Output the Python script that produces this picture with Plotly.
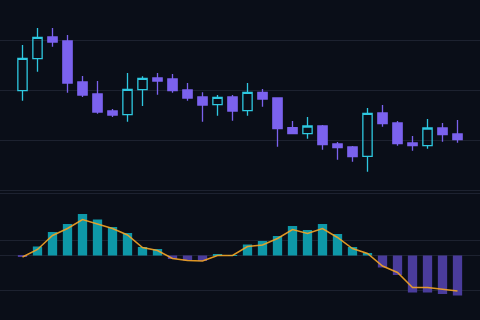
import plotly.graph_objects as go

# ---- data ----
idx = list(range(30))
opens  = [99.93, 103.13, 105.30, 104.90, 100.80, 99.60, 97.90, 97.53, 100.03, 101.20,
          101.10, 100.00, 99.30, 98.53, 99.30, 97.93, 99.77, 99.20, 96.23, 95.63,
          96.40, 94.60, 94.30, 93.37, 97.70, 96.70, 94.70, 94.43, 96.20, 95.60]
highs  = [104.50, 106.20, 106.20, 105.50, 101.40, 100.90, 98.10, 101.70, 101.37, 101.70,
          101.60, 100.70, 99.77, 99.50, 99.50, 100.70, 100.10, 99.20, 96.90, 97.30,
          96.50, 94.80, 94.40, 98.20, 98.50, 96.90, 95.40, 97.10, 96.70, 97.00]
lows   = [98.93, 101.83, 104.33, 99.73, 99.30, 97.63, 97.30, 96.83, 98.40, 99.53,
          99.73, 98.93, 96.83, 97.43, 96.93, 97.43, 98.33, 94.33, 95.60, 95.13,
          94.03, 93.03, 92.83, 91.83, 96.33, 94.43, 93.93, 94.13, 94.83, 94.73]
closes = [103.17, 105.27, 104.80, 100.70, 99.50, 97.80, 97.50, 100.07, 101.17, 100.90,
          99.93, 99.20, 98.50, 99.27, 97.90, 99.77, 99.10, 96.13, 95.63, 96.40,
          94.53, 94.23, 93.33, 97.67, 96.63, 94.63, 94.43, 96.20, 95.53, 95.03]

hist = [-0.015, 0.09, 0.235, 0.315, 0.415, 0.36, 0.285, 0.225, 0.085, 0.065,
        -0.035, -0.05, -0.055, 0.015, 0.005, 0.11, 0.145, 0.195, 0.295, 0.255,
        0.315, 0.215, 0.085, 0.025, -0.12, -0.195, -0.37, -0.37, -0.385, -0.40]
signal = [-0.015, 0.06, 0.20, 0.27, 0.36, 0.315, 0.27, 0.205, 0.08, 0.05,
          -0.03, -0.05, -0.055, 0.0, 0.0, 0.09, 0.105, 0.17, 0.26, 0.22,
          0.27, 0.18, 0.07, 0.02, -0.105, -0.17, -0.32, -0.32, -0.335, -0.355]

price_grid = [89.7, 90, 95, 100, 105]
osc_grid = [-0.35, 0.15]

# ---- style ----
BG = "#0a0e18"
GRID = "#1d2230"
UP = "#2ec8e0"
DOWN = "#7b62ee"
HIST_UP = "#0e98a8"
HIST_DN = "#4a3c9c"
LINE = "#f5a524"

fig = go.Figure()

fig.add_trace(go.Candlestick(
    x=idx, open=opens, high=highs, low=lows, close=closes,
    increasing=dict(line=dict(color=UP, width=1.3), fillcolor="rgba(0,0,0,0)"),
    decreasing=dict(line=dict(color=DOWN, width=1.3), fillcolor=DOWN),
    whiskerwidth=0, xaxis="x", yaxis="y", showlegend=False, hoverinfo="skip",
))

fig.add_trace(go.Bar(
    x=idx, y=hist,
    marker=dict(color=[HIST_UP if v >= 0 else HIST_DN for v in hist], line=dict(width=0)),
    xaxis="x2", yaxis="y2", showlegend=False,
))

fig.add_trace(go.Scatter(
    x=idx, y=signal, mode="lines",
    line=dict(color=LINE, width=1.5), opacity=0.9,
    xaxis="x2", yaxis="y2", showlegend=False,
))

fig.update_layout(
    width=480, height=320,
    margin=dict(l=0, r=0, t=0, b=0),
    paper_bgcolor=BG, plot_bgcolor=BG,
    boxgap=0.38, boxgroupgap=0, bargap=0.38,
    xaxis=dict(domain=[0, 1], range=[-1.5, 30.5], anchor="y",
               showgrid=False, showticklabels=False, zeroline=False,
               rangeslider=dict(visible=False)),
    yaxis=dict(domain=[1 - 200 / 320, 1], range=[89, 109], anchor="x",
               tickvals=price_grid, gridcolor=GRID, gridwidth=1,
               showticklabels=False, zeroline=False),
    xaxis2=dict(domain=[0, 1], range=[-1.5, 30.5], anchor="y2",
                showgrid=False, showticklabels=False, zeroline=False),
    yaxis2=dict(domain=[0, 120 / 320], range=[-0.645, 0.555], anchor="x2",
                tickvals=osc_grid, gridcolor=GRID, gridwidth=1,
                showticklabels=False, zeroline=True, zerolinecolor=GRID, zerolinewidth=1),
)

fig.write_html("out.html")
